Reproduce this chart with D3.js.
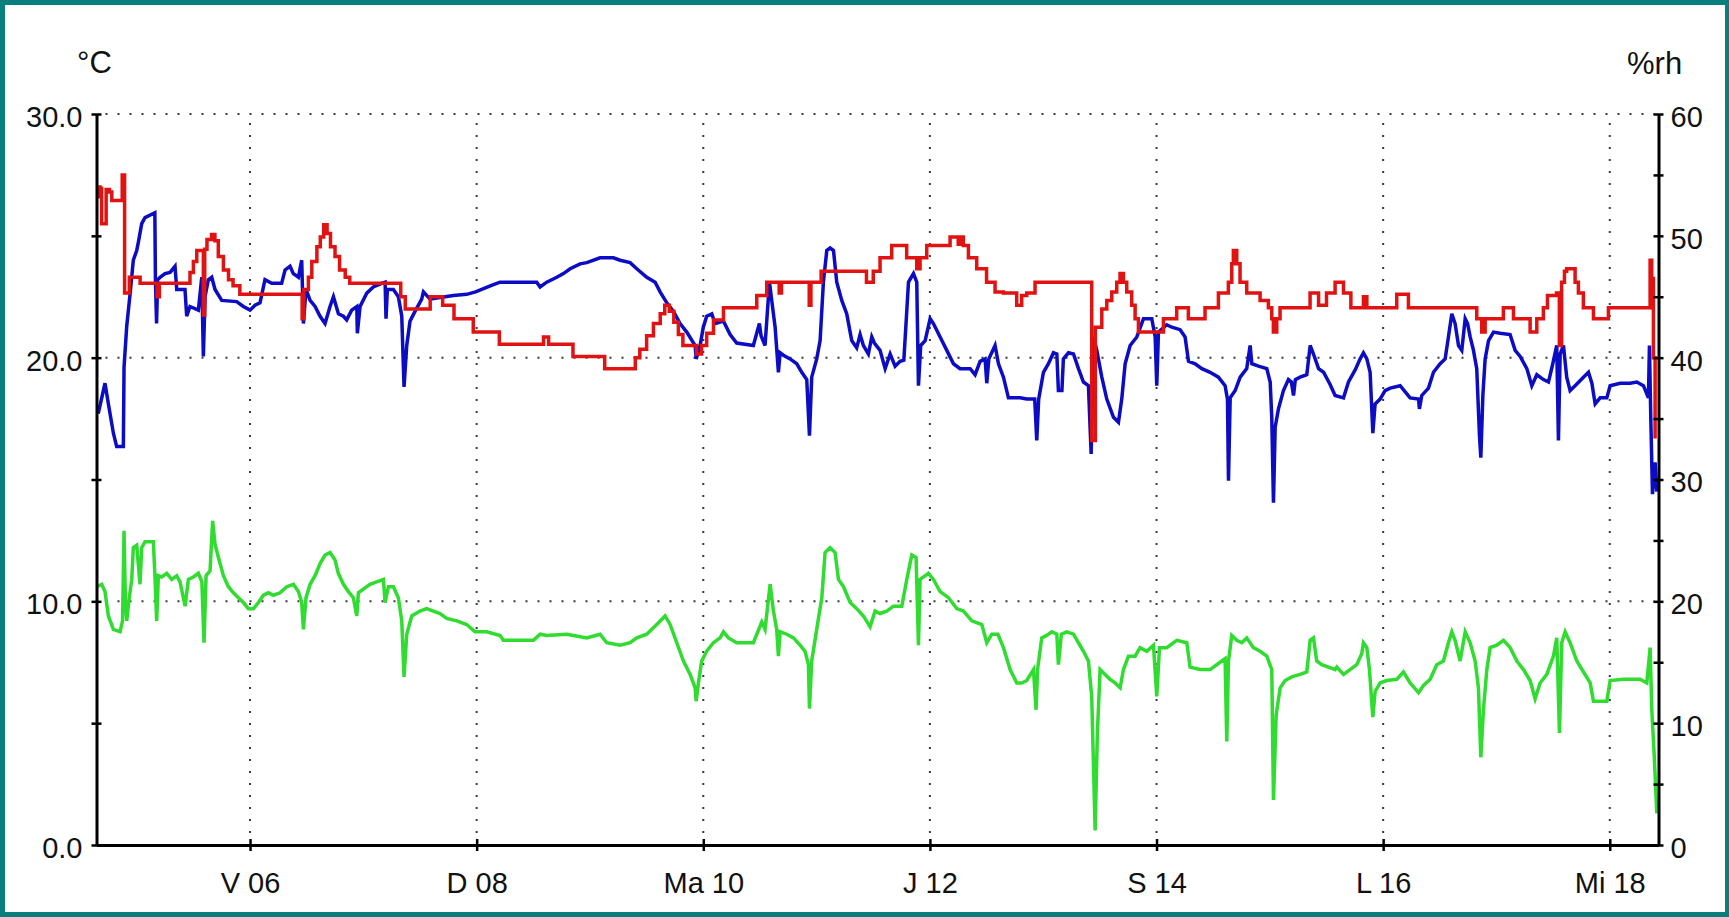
<!DOCTYPE html>
<html>
<head>
<meta charset="utf-8">
<script src="https://cdn.jsdelivr.net/npm/d3@7"></script>
<style>
  html, body { margin: 0; padding: 0; background: #087e7e; }
  svg { display: block; }
  text { font-family: "Liberation Sans", Arial, sans-serif; fill: #111; }
</style>
</head>
<body>
<svg id="chart" width="1729" height="917"></svg>
<script>
// Day-of-month ticks along the time axis and their Romanian day labels
const tickDays   = [6, 8, 10, 12, 14, 16, 18];
const tickLabels = ["V 06", "D 08", "Ma 10", "J 12", "S 14", "L 16", "Mi 18"];

// Left axis (°C) and right axis (%rh) ticks
const tempMajor = [0, 10, 20, 30];
const tempMinor = [5, 15, 25];
const rhMajor   = [0, 10, 20, 30, 40, 50, 60];
const rhMinor   = [5, 15, 25, 35, 45, 55];

// Time window shown, in fractional day of month
const dayRange = [4.645, 18.43];

// Relative humidity, %rh  [day, value]
const humidity = [
  [4.647,53.2],[4.662,54.0],[4.676,53.9],[4.69,51.0],[4.73,53.8],[4.76,53.6],[4.78,52.9],
  [4.872,55.0],[4.893,45.3],[4.935,46.6],[5.03,46.1],[5.18,45.0],[5.2,46.1],[5.47,47.0],
  [5.5,47.9],[5.53,48.8],[5.588,43.5],[5.6,48.9],[5.62,49.7],[5.66,50.1],[5.69,49.6],
  [5.72,48.3],[5.765,47.2],[5.81,46.4],[5.85,45.9],[5.91,45.2],[6.46,43.2],[6.475,45.6],
  [6.515,46.6],[6.545,47.9],[6.59,49.1],[6.62,49.9],[6.65,50.9],[6.68,50.2],[6.71,49.1],
  [6.75,48.3],[6.79,47.2],[6.84,46.6],[6.88,46.1],[7.33,45.0],[7.37,44.0],[7.59,45.0],
  [7.7,44.3],[7.8,43.2],[7.97,42.1],[8.2,41.1],[8.59,41.7],[8.635,41.1],[8.85,40.1],
  [9.13,39.1],[9.4,40.0],[9.44,40.7],[9.5,41.8],[9.56,42.8],[9.62,43.6],[9.66,44.3],
  [9.7,43.8],[9.74,42.9],[9.78,41.9],[9.82,41.0],[9.94,40.3],[9.985,41.0],[10.03,42.0],
  [10.09,43.1],[10.178,44.1],[10.472,45.1],[10.56,46.2],[10.67,45.3],[10.69,46.2],
  [10.935,44.3],[10.95,46.2],[11.04,47.1],[11.44,46.2],[11.5,47.1],[11.56,48.2],
  [11.663,49.2],[11.795,48.2],[11.884,47.3],[11.913,48.2],[11.972,49.2],[12.178,49.9],
  [12.25,49.3],[12.265,49.9],[12.295,49.2],[12.34,48.2],[12.413,47.3],[12.5,46.2],
  [12.575,45.4],[12.648,45.3],[12.766,44.3],[12.81,45.1],[12.855,45.3],[12.928,46.2],
  [13.428,33.2],[13.46,42.5],[13.517,44.0],[13.561,44.7],[13.605,45.4],[13.649,46.2],
  [13.678,46.9],[13.708,46.2],[13.737,45.4],[13.781,44.3],[13.811,43.2],[13.84,42.1],
  [14.061,43.2],[14.178,44.1],[14.281,43.2],[14.428,44.1],[14.546,45.3],[14.634,46.2],
  [14.664,47.7],[14.678,48.8],[14.708,47.7],[14.737,46.2],[14.796,45.3],[14.914,44.7],
  [14.987,44.1],[15.017,43.2],[15.031,42.1],[15.061,43.2],[15.09,44.1],[15.355,45.3],
  [15.43,44.3],[15.5,45.3],[15.576,46.2],[15.65,45.3],[15.715,44.1],[15.826,45.0],
  [15.856,44.1],[16.12,45.2],[16.223,44.1],[16.826,43.2],[16.87,42.1],[16.9,43.2],
  [17.061,44.1],[17.15,43.2],[17.297,42.1],[17.356,43.2],[17.414,44.1],[17.45,45.1],
  [17.53,45.3],[17.555,41.0],[17.575,46.2],[17.6,47.1],[17.62,47.3],[17.694,46.2],
  [17.723,45.3],[17.767,44.1],[17.856,43.2],[17.988,44.1],[18.356,48.0],[18.37,46.5],
  [18.385,40.0],[18.4,33.5],[18.415,33.5]
];

// Air temperature, °C  [day, value]
const temperature = [
  [4.66,17.7],[4.72,18.95],[4.75,18.1],[4.794,16.9],[4.823,16.35],[4.882,16.35],[4.888,19.6],
  [4.912,21.3],[4.941,22.6],[4.97,24.0],[5.0,24.4],[5.015,24.75],[5.044,25.5],[5.073,25.75],
  [5.16,25.95],[5.165,23.2],[5.175,21.4],[5.185,23.2],[5.206,23.3],[5.25,23.45],[5.294,23.5],
  [5.338,23.75],[5.353,22.8],[5.426,22.8],[5.441,21.7],[5.47,22.1],[5.544,21.95],[5.574,23.3],
  [5.588,20.05],[5.603,22.5],[5.632,23.2],[5.662,23.3],[5.691,22.8],[5.75,22.35],[5.882,22.3],
  [5.941,22.1],[6.0,21.95],[6.044,22.15],[6.088,22.25],[6.132,23.2],[6.191,23.05],[6.279,23.05],
  [6.309,23.6],[6.353,23.75],[6.382,23.45],[6.427,23.3],[6.456,24.0],[6.471,21.4],[6.494,22.8],
  [6.53,22.35],[6.574,22.1],[6.618,21.7],[6.662,21.4],[6.706,22.1],[6.736,22.5],[6.78,21.8],
  [6.824,21.7],[6.853,21.55],[6.897,21.95],[6.942,22.1],[6.947,21.0],[6.971,22.1],[7.03,22.65],
  [7.088,22.9],[7.162,23.05],[7.192,23.1],[7.2,21.6],[7.212,22.8],[7.265,22.8],[7.309,22.5],
  [7.339,21.7],[7.359,18.8],[7.383,20.5],[7.412,21.5],[7.456,21.9],[7.515,22.4],[7.53,22.7],
  [7.589,22.4],[7.648,22.45],[7.795,22.55],[7.912,22.6],[7.99,22.7],[8.148,23.0],[8.207,23.1],
  [8.354,23.1],[8.53,23.1],[8.56,22.9],[8.618,23.1],[8.707,23.3],[8.766,23.45],[8.825,23.65],
  [8.913,23.85],[8.972,23.9],[9.089,24.1],[9.207,24.1],[9.266,24.0],[9.354,23.9],[9.413,23.65],
  [9.501,23.3],[9.575,23.1],[9.619,22.7],[9.678,22.25],[9.737,21.9],[9.795,21.4],[9.854,21.05],
  [9.928,20.5],[9.937,19.95],[9.972,20.5],[10.0,21.25],[10.03,21.7],[10.075,21.8],[10.104,21.4],
  [10.178,21.5],[10.237,20.95],[10.295,20.6],[10.442,20.5],[10.495,21.4],[10.51,20.9],
  [10.545,20.5],[10.584,23.1],[10.604,22.35],[10.634,21.25],[10.663,19.4],[10.678,20.2],
  [10.707,20.1],[10.766,19.95],[10.825,19.75],[10.869,19.4],[10.913,19.1],[10.937,16.8],
  [10.957,19.2],[11.001,19.95],[11.031,20.7],[11.06,23.1],[11.09,24.4],[11.119,24.5],
  [11.149,24.4],[11.178,23.1],[11.222,22.35],[11.266,21.8],[11.31,20.7],[11.354,20.4],
  [11.384,20.95],[11.413,20.5],[11.457,20.15],[11.487,20.85],[11.51,20.6],[11.56,20.3],
  [11.605,19.55],[11.649,20.15],[11.693,19.65],[11.737,19.85],[11.77,19.9],[11.811,23.1],
  [11.855,23.45],[11.884,23.1],[11.899,18.85],[11.919,20.5],[11.958,20.7],[12.002,21.6],
  [12.031,21.4],[12.09,20.85],[12.149,20.3],[12.208,19.75],[12.266,19.55],[12.355,19.55],
  [12.399,19.3],[12.443,19.85],[12.487,19.95],[12.502,18.95],[12.52,19.95],[12.575,20.5],
  [12.605,19.75],[12.649,19.2],[12.693,18.35],[12.796,18.35],[12.855,18.3],[12.925,18.3],
  [12.943,16.6],[12.96,18.3],[13.002,19.4],[13.046,19.75],[13.09,20.2],[13.12,20.15],
  [13.134,18.65],[13.165,18.65],[13.178,19.95],[13.223,20.2],[13.267,20.15],[13.311,19.55],
  [13.355,19.0],[13.399,18.85],[13.423,16.05],[13.443,20.85],[13.473,20.3],[13.517,19.2],
  [13.561,18.3],[13.62,17.55],[13.664,17.35],[13.693,18.3],[13.723,19.75],[13.767,20.5],
  [13.826,20.85],[13.885,21.6],[13.958,21.6],[13.988,20.85],[14.002,18.85],[14.017,21.05],
  [14.09,21.35],[14.135,21.25],[14.208,21.15],[14.252,20.85],[14.282,19.85],[14.341,19.75],
  [14.4,19.55],[14.473,19.4],[14.546,19.2],[14.605,18.85],[14.626,18.3],[14.635,14.95],
  [14.65,18.35],[14.694,18.65],[14.738,19.2],[14.796,19.55],[14.826,20.5],[14.841,19.75],
  [14.9,19.65],[14.973,19.55],[15.003,19.0],[15.017,17.55],[15.032,14.05],[15.047,17.15],
  [15.076,17.9],[15.12,18.65],[15.164,19.1],[15.19,19.0],[15.209,18.45],[15.225,19.1],
  [15.267,19.2],[15.326,19.3],[15.356,20.5],[15.385,20.15],[15.43,19.55],[15.474,19.4],
  [15.532,18.9],[15.576,18.45],[15.65,18.35],[15.694,19.0],[15.753,19.5],[15.797,19.95],
  [15.826,20.2],[15.856,19.95],[15.885,19.4],[15.909,16.9],[15.929,18.1],[15.973,18.3],
  [16.017,18.65],[16.062,18.75],[16.15,18.85],[16.238,18.35],[16.312,18.3],[16.32,17.9],
  [16.341,18.45],[16.4,18.75],[16.444,19.4],[16.503,19.75],[16.547,19.95],[16.576,20.85],
  [16.606,21.8],[16.635,21.4],[16.665,20.5],[16.694,20.3],[16.724,21.6],[16.745,21.4],
  [16.768,20.85],[16.797,20.3],[16.826,19.55],[16.85,16.8],[16.862,15.9],[16.88,18.45],
  [16.9,19.95],[16.93,20.7],[16.974,21.05],[17.032,21.0],[17.12,20.95],[17.165,20.3],
  [17.209,20.05],[17.268,19.55],[17.312,18.85],[17.356,19.3],[17.415,19.1],[17.459,19.0],
  [17.497,19.75],[17.532,20.5],[17.547,16.6],[17.562,20.15],[17.591,20.5],[17.62,19.2],
  [17.65,18.65],[17.694,18.85],[17.768,19.2],[17.812,19.4],[17.842,18.95],[17.871,18.1],
  [17.915,18.35],[17.974,18.35],[18.003,18.85],[18.091,18.95],[18.18,18.95],[18.238,19.0],
  [18.297,18.85],[18.341,18.35],[18.35,20.5],[18.362,17.5],[18.377,14.4],[18.4,15.7],
  [18.415,14.5]
];

// Dew point, °C  [day, value]
const dewPoint = [
  [4.647,10.6],[4.691,10.7],[4.72,10.4],[4.75,9.4],[4.794,8.85],[4.853,8.75],[4.875,9.2],
  [4.888,12.9],[4.9,10.0],[4.912,9.2],[4.93,10.0],[4.956,10.9],[4.97,12.2],[5.0,12.3],
  [5.029,10.7],[5.044,12.2],[5.073,12.45],[5.147,12.45],[5.162,10.9],[5.176,9.2],[5.191,11.05],
  [5.22,11.0],[5.265,11.15],[5.309,10.9],[5.353,11.05],[5.382,10.8],[5.427,9.8],[5.456,10.9],
  [5.5,11.0],[5.544,11.15],[5.575,10.8],[5.594,8.3],[5.612,11.05],[5.647,11.25],[5.67,13.3],
  [5.691,12.35],[5.721,11.8],[5.765,11.05],[5.809,10.6],[5.853,10.35],[5.897,10.15],
  [5.941,9.95],[5.985,9.7],[6.03,9.7],[6.074,9.95],[6.118,10.25],[6.162,10.35],[6.206,10.25],
  [6.265,10.35],[6.324,10.6],[6.383,10.7],[6.427,10.4],[6.456,9.95],[6.471,8.85],[6.494,10.15],
  [6.53,10.7],[6.574,11.05],[6.618,11.55],[6.662,11.9],[6.706,12.0],[6.75,11.7],[6.779,11.15],
  [6.824,10.7],[6.868,10.4],[6.912,10.15],[6.942,9.4],[6.956,10.35],[7.0,10.5],[7.059,10.7],
  [7.118,10.8],[7.177,10.9],[7.192,9.95],[7.221,10.6],[7.265,10.6],[7.309,10.15],[7.339,9.2],
  [7.359,6.9],[7.383,8.65],[7.427,9.4],[7.5,9.6],[7.559,9.7],[7.618,9.6],[7.677,9.5],
  [7.736,9.3],[7.824,9.2],[7.912,9.05],[7.986,8.75],[8.089,8.75],[8.207,8.6],[8.236,8.4],
  [8.501,8.4],[8.56,8.65],[8.618,8.6],[8.795,8.65],[8.854,8.6],[8.971,8.5],[9.089,8.65],
  [9.148,8.3],[9.266,8.2],[9.354,8.3],[9.413,8.5],[9.501,8.65],[9.589,9.05],[9.663,9.4],
  [9.707,9.05],[9.766,8.3],[9.825,7.55],[9.884,7.0],[9.928,6.45],[9.937,5.9],[9.957,6.65],
  [9.986,7.55],[10.03,7.95],[10.089,8.3],[10.148,8.5],[10.178,8.75],[10.222,8.5],[10.295,8.3],
  [10.442,8.3],[10.516,9.15],[10.545,8.85],[10.59,10.7],[10.619,9.6],[10.648,8.85],
  [10.663,7.75],[10.678,8.75],[10.737,8.65],[10.796,8.5],[10.854,8.2],[10.898,7.95],
  [10.928,7.4],[10.937,5.6],[10.957,7.55],[11.001,8.85],[11.046,10.15],[11.075,12.0],
  [11.119,12.2],[11.163,12.0],[11.193,10.9],[11.237,10.6],[11.296,9.95],[11.354,9.7],
  [11.413,9.4],[11.472,8.95],[11.516,9.6],[11.56,9.5],[11.619,9.6],[11.678,9.8],[11.752,9.8],
  [11.796,10.9],[11.84,11.9],[11.878,11.8],[11.899,8.2],[11.913,10.9],[11.987,11.15],
  [12.031,10.9],[12.09,10.4],[12.164,10.15],[12.237,9.7],[12.296,9.6],[12.37,9.2],
  [12.458,9.05],[12.502,8.3],[12.546,8.65],[12.6,8.65],[12.649,8.1],[12.708,7.2],
  [12.767,6.65],[12.811,6.65],[12.855,6.75],[12.914,7.2],[12.937,5.55],[12.95,7.2],
  [12.987,8.5],[13.031,8.6],[13.076,8.75],[13.12,8.65],[13.134,7.4],[13.16,8.65],[13.208,8.75],
  [13.267,8.65],[13.311,8.3],[13.355,7.95],[13.399,7.55],[13.428,6.1],[13.458,0.6],
  [13.478,4.6],[13.502,7.2],[13.546,7.0],[13.59,6.8],[13.634,6.65],[13.679,6.45],[13.708,7.2],
  [13.752,7.75],[13.811,7.75],[13.855,8.1],[13.914,7.95],[13.973,8.2],[14.002,6.1],
  [14.026,8.1],[14.09,8.1],[14.179,8.4],[14.267,8.3],[14.296,7.3],[14.385,7.2],[14.473,7.2],
  [14.546,7.45],[14.605,7.65],[14.62,4.25],[14.635,7.55],[14.664,8.6],[14.708,8.4],
  [14.752,8.3],[14.796,8.5],[14.855,8.1],[14.914,7.95],[14.973,7.75],[15.017,7.2],
  [15.032,1.85],[15.056,5.35],[15.091,6.45],[15.135,6.75],[15.194,6.9],[15.267,7.0],
  [15.326,7.1],[15.356,8.4],[15.385,8.5],[15.414,7.55],[15.458,7.4],[15.517,7.3],[15.576,7.2],
  [15.591,7.3],[15.65,7.0],[15.708,7.2],[15.767,7.4],[15.811,7.85],[15.826,8.3],[15.856,8.1],
  [15.879,7.2],[15.909,5.25],[15.929,6.3],[15.973,6.65],[16.032,6.75],[16.12,6.8],
  [16.179,7.1],[16.238,6.65],[16.312,6.25],[16.356,6.55],[16.415,6.8],[16.473,7.4],
  [16.532,7.55],[16.576,8.3],[16.606,8.75],[16.635,8.4],[16.679,7.55],[16.724,8.75],
  [16.768,8.3],[16.812,7.55],[16.841,6.45],[16.862,3.6],[16.885,5.55],[16.915,7.2],
  [16.944,8.1],[17.003,8.2],[17.062,8.4],[17.121,8.1],[17.18,7.55],[17.238,7.2],[17.297,6.75],
  [17.341,6.0],[17.385,6.65],[17.444,7.0],[17.503,7.75],[17.532,8.5],[17.556,4.6],
  [17.576,8.3],[17.606,8.75],[17.65,8.3],[17.709,7.55],[17.768,7.1],[17.827,6.65],
  [17.856,5.9],[17.974,5.9],[18.003,6.75],[18.121,6.8],[18.268,6.8],[18.327,6.65],
  [18.356,8.1],[18.371,5.55],[18.392,3.7],[18.415,1.3]
];

// ---- layout ----
const W = 1729, H = 917;
const plot = { left: 96.5, right: 1658.5, top: 114, bottom: 845 };

const svg = d3.select("#chart");

// frame: teal border around a white panel
svg.append("rect").attr("x", 0).attr("y", 0).attr("width", W).attr("height", H).attr("fill", "#087e7e");
svg.append("rect").attr("x", 5).attr("y", 5).attr("width", W - 9).attr("height", H - 10).attr("fill", "#ffffff");

const x   = d3.scaleLinear().domain(dayRange).range([plot.left, plot.right]);
const yT  = d3.scaleLinear().domain([0, 30]).range([plot.bottom, plot.top]);
const yRH = d3.scaleLinear().domain([0, 60]).range([plot.bottom, plot.top]);

// dotted grid
const grid = svg.append("g").attr("stroke", "#3a3a3a").attr("stroke-width", 2)
  .attr("stroke-dasharray", "2 10").attr("fill", "none");
grid.selectAll("line.h").data([10, 20, 30]).join("line")
  .attr("class", "h")
  .attr("x1", plot.left + 9).attr("x2", plot.right - 4)
  .attr("y1", d => yT(d)).attr("y2", d => yT(d));
grid.selectAll("line.v").data(tickDays).join("line")
  .attr("class", "v")
  .attr("x1", d => x(d)).attr("x2", d => x(d))
  .attr("y1", plot.top + 9).attr("y2", plot.bottom - 4);

// series
const lineT  = d3.line().x(d => x(d[0])).y(d => yT(d[1]));
const lineRH = d3.line().x(d => x(d[0])).y(d => yRH(d[1])).curve(d3.curveStepAfter);

const series = svg.append("g").attr("fill", "none").attr("stroke-width", 3.5)
  .attr("stroke-linejoin", "miter").attr("stroke-linecap", "butt");
series.append("path").datum(dewPoint).attr("stroke", "#2fdc2f").attr("d", lineT);
series.append("path").datum(temperature).attr("stroke", "#0c0cc4").attr("d", lineT);
series.append("path").datum(humidity).attr("stroke", "#e01212").attr("d", lineRH);

// axes
const fontSize = 29;
function styleAxis(g) {
  g.select(".domain").attr("stroke", "#000").attr("stroke-width", 3);
  g.selectAll(".tick line").attr("stroke", "#000").attr("stroke-width", 2.5);
  g.selectAll(".tick text").attr("font-size", fontSize)
    .attr("font-family", "'Liberation Sans', Arial, sans-serif").attr("fill", "#111");
}

// left °C axis
const gL = svg.append("g").attr("transform", `translate(${plot.left},0)`)
  .call(d3.axisLeft(yT).tickValues(tempMajor).tickFormat(d3.format(".1f"))
    .tickSizeInner(5).tickSizeOuter(0).tickPadding(9));
gL.selectAll(".tick line").attr("x1", 5).attr("x2", -5);
gL.selectAll(".tick text").attr("dy", "0.43em");
styleAxis(gL);
const gLm = svg.append("g").attr("transform", `translate(${plot.left},0)`)
  .call(d3.axisLeft(yT).tickValues(tempMinor).tickFormat("").tickSizeInner(5).tickSizeOuter(0));
gLm.select(".domain").remove();
gLm.selectAll(".tick line").attr("x1", 5).attr("x2", -5);
styleAxis(gLm);

// right %rh axis
const gR = svg.append("g").attr("transform", `translate(${plot.right},0)`)
  .call(d3.axisRight(yRH).tickValues(rhMajor).tickFormat(d3.format("d"))
    .tickSizeInner(5).tickSizeOuter(0).tickPadding(7));
gR.selectAll(".tick line").attr("x1", -5).attr("x2", 5);
gR.selectAll(".tick text").attr("dy", "0.43em");
styleAxis(gR);
const gRm = svg.append("g").attr("transform", `translate(${plot.right},0)`)
  .call(d3.axisRight(yRH).tickValues(rhMinor).tickFormat("").tickSizeInner(5).tickSizeOuter(0));
gRm.select(".domain").remove();
gRm.selectAll(".tick line").attr("x1", -5).attr("x2", 5);
styleAxis(gRm);

// bottom day axis
const gB = svg.append("g").attr("transform", `translate(0,${plot.bottom})`)
  .call(d3.axisBottom(x).tickValues(tickDays).tickFormat((d, i) => tickLabels[i])
    .tickSizeInner(6).tickSizeOuter(0).tickPadding(21));
gB.selectAll(".tick line").attr("y1", -6).attr("y2", 6);
styleAxis(gB);

// unit captions
svg.append("text").attr("x", 77).attr("y", 73).attr("font-size", 31).text("°C");
svg.append("text").attr("x", 1627).attr("y", 74).attr("font-size", 31).text("%rh");
</script>
</body>
</html>
